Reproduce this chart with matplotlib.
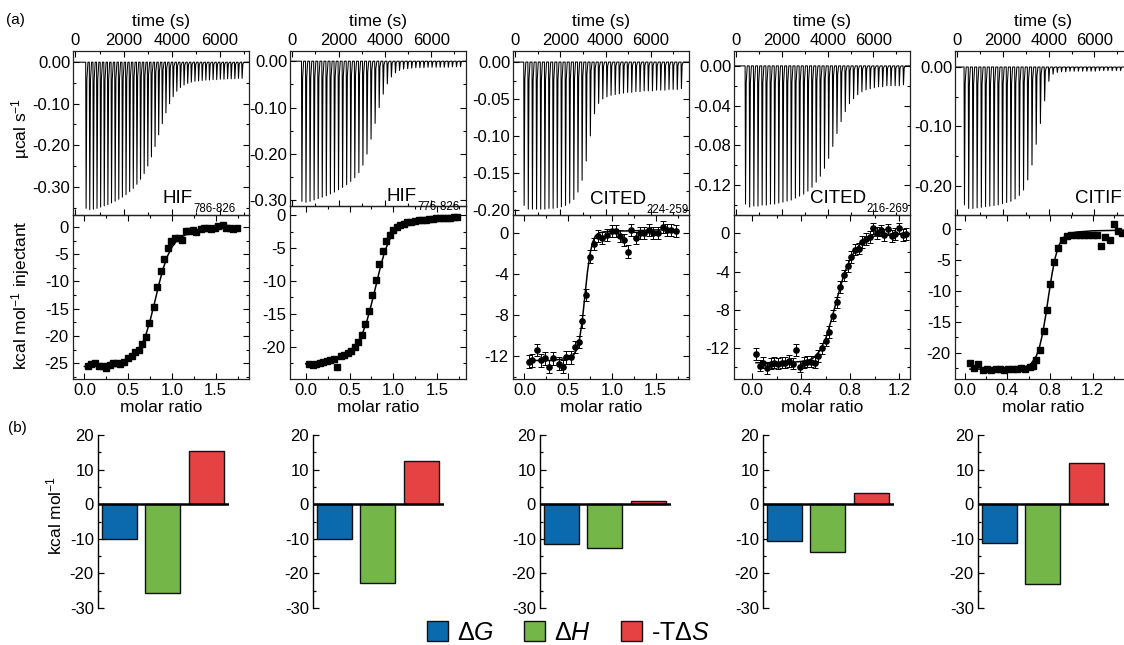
import matplotlib
matplotlib.use('Agg')
import matplotlib.pyplot as plt
from matplotlib.patches import Patch
from matplotlib.ticker import MultipleLocator, FormatStrFormatter

plt.rcParams['font.family'] = ['Liberation Sans', 'DejaVu Sans']
plt.rcParams['mathtext.fontset'] = 'custom'
plt.rcParams['mathtext.rm'] = 'Liberation Sans'
plt.rcParams['mathtext.it'] = 'Liberation Sans:italic'
plt.rcParams['axes.unicode_minus'] = False

W, H = 1124, 645

# ---- data ----
names = ['HIF', 'HIF', 'CITED', 'CITED', 'CITIF']
subs = ['786-826', '776-826', '224-259', '216-269', '']

# raw thermogram peak heights (ucal/s), one per injection
peaks_1 = [-0.352, -0.355, -0.354, -0.352, -0.349, -0.346, -0.343, -0.339, -0.335, -0.330,
           -0.325, -0.319, -0.312, -0.304, -0.294, -0.282, -0.268, -0.250, -0.228, -0.203,
           -0.175, -0.148, -0.122, -0.100, -0.083, -0.070, -0.061, -0.055, -0.051, -0.048,
           -0.046, -0.045, -0.044, -0.043, -0.043, -0.042, -0.042, -0.041, -0.041, -0.040,
           -0.040, -0.040, -0.039, -0.039]
peaks_2 = [-0.302, -0.304, -0.302, -0.299, -0.296, -0.293, -0.290, -0.286, -0.282, -0.277,
           -0.272, -0.266, -0.259, -0.251, -0.240, -0.224, -0.200, -0.168, -0.134, -0.100,
           -0.071, -0.049, -0.034, -0.025, -0.020, -0.017, -0.016, -0.015, -0.014, -0.014,
           -0.014, -0.013, -0.013, -0.013, -0.013, -0.013, -0.013, -0.012, -0.012, -0.012]
peaks_3 = [-0.194, -0.199, -0.199, -0.199, -0.199, -0.199, -0.198, -0.198, -0.197, -0.196,
           -0.194, -0.191, -0.186, -0.176, -0.160, -0.134, -0.100, -0.070, -0.056, -0.050,
           -0.047, -0.045, -0.044, -0.043, -0.042, -0.041, -0.041, -0.040, -0.040, -0.039,
           -0.039, -0.039, -0.038, -0.038, -0.038, -0.037, -0.037, -0.037, -0.036]
peaks_4 = [-0.139, -0.142, -0.141, -0.141, -0.140, -0.140, -0.139, -0.139, -0.138, -0.137,
           -0.136, -0.135, -0.133, -0.131, -0.129, -0.126, -0.122, -0.117, -0.111, -0.103,
           -0.093, -0.081, -0.068, -0.056, -0.046, -0.038, -0.033, -0.029, -0.026, -0.024,
           -0.023, -0.022, -0.021, -0.021, -0.020, -0.020, -0.020, -0.020, -0.019]
peaks_5 = [-0.232, -0.238, -0.238, -0.237, -0.236, -0.235, -0.234, -0.233, -0.232, -0.230,
           -0.228, -0.226, -0.222, -0.216, -0.207, -0.190, -0.165, -0.130, -0.095, -0.057,
           -0.024, -0.012, -0.009, -0.008, -0.008, -0.007, -0.007, -0.007, -0.007, -0.007,
           -0.007, -0.007, -0.006, -0.006, -0.006, -0.006, -0.006, -0.006, -0.006, -0.006]

# integrated heats (kcal/mol injectant) vs molar ratio
ratio_1 = [0.04, 0.08, 0.12, 0.17, 0.21, 0.25, 0.29, 0.33, 0.37, 0.41, 0.45, 0.50, 0.54, 0.58,
           0.62, 0.66, 0.70, 0.74, 0.79, 0.83, 0.87, 0.91, 0.95, 0.99, 1.04, 1.08, 1.12, 1.16,
           1.20, 1.24, 1.28, 1.33, 1.37, 1.41, 1.45, 1.49, 1.53, 1.58, 1.62, 1.66, 1.70, 1.74]
heat_1 = [-25.6, -25.2, -25.0, -25.5, -25.6, -25.9, -25.4, -25.0, -24.9, -25.1, -24.8, -24.0,
          -23.6, -23.0, -22.6, -21.5, -20.1, -17.6, -14.6, -11.0, -8.0, -5.8, -3.8, -2.6,
          -2.0, -2.1, -2.3, -0.8, -0.8, -0.6, -0.9, -0.4, -0.2, -0.2, -0.4, -0.1, 0.1, 0.3,
          -0.2, -0.1, -0.3, -0.2]
ratio_2 = [0.04, 0.08, 0.12, 0.16, 0.20, 0.24, 0.28, 0.32, 0.36, 0.40, 0.44, 0.48, 0.52, 0.56,
           0.60, 0.64, 0.68, 0.72, 0.76, 0.80, 0.84, 0.88, 0.92, 0.96, 1.00, 1.04, 1.08, 1.12,
           1.16, 1.20, 1.25, 1.29, 1.33, 1.37, 1.41, 1.45, 1.49, 1.53, 1.57, 1.61, 1.65, 1.69, 1.73]
heat_2 = [-22.6, -22.7, -22.6, -22.5, -22.3, -22.2, -22.0, -21.8, -23.0, -21.4, -21.2, -21.0,
          -20.6, -20.0, -19.2, -18.2, -16.6, -14.6, -12.2, -9.8, -7.4, -5.4, -3.9, -3.0, -2.2,
          -1.8, -1.5, -1.3, -1.1, -1.0, -0.9, -0.8, -0.7, -0.7, -0.6, -0.6, -0.5, -0.5, -0.4,
          -0.4, -0.4, -0.3, -0.3]
ratio_3 = [0.05, 0.09, 0.14, 0.19, 0.24, 0.28, 0.33, 0.39, 0.44, 0.48, 0.53, 0.58, 0.62, 0.66,
           0.70, 0.75, 0.80, 0.84, 0.89, 0.94, 1.00, 1.05, 1.09, 1.14, 1.18, 1.22, 1.27, 1.32,
           1.37, 1.42, 1.47, 1.53, 1.58, 1.63, 1.68, 1.73]
heat_3 = [-12.5, -12.4, -11.4, -12.4, -12.2, -13.0, -12.2, -12.7, -13.0, -12.1, -12.1, -11.1,
          -10.6, -8.6, -6.0, -2.3, -1.1, -0.3, -0.5, -0.2, 0.2, 0.2, -0.3, -0.7, -1.8, 0.3,
          -0.5, 0.0, 0.0, 0.3, 0.0, 0.0, 0.6, 0.3, 0.3, 0.2]
ratio_4 = [0.03, 0.06, 0.09, 0.12, 0.15, 0.18, 0.21, 0.24, 0.27, 0.30, 0.33, 0.36, 0.39, 0.42,
           0.45, 0.48, 0.51, 0.54, 0.57, 0.60, 0.63, 0.66, 0.69, 0.72, 0.75, 0.78, 0.81, 0.84,
           0.87, 0.90, 0.93, 0.96, 0.99, 1.02, 1.05, 1.08, 1.11, 1.14, 1.17, 1.20, 1.23, 1.26]
heat_4 = [-12.6, -13.8, -13.5, -14.1, -13.6, -13.5, -13.6, -13.5, -13.5, -13.3, -13.6, -12.2,
          -13.9, -13.5, -13.4, -13.4, -13.5, -12.8, -12.0, -11.2, -10.3, -8.6, -7.2, -5.6,
          -4.4, -3.4, -2.5, -1.7, -1.6, -0.9, -0.6, -0.4, 0.5, 0.0, 0.3, -0.2, 0.4, -0.3,
          -0.1, 0.5, -0.2, -0.1]
ratio_5 = [0.05, 0.09, 0.13, 0.17, 0.21, 0.25, 0.29, 0.33, 0.37, 0.41, 0.45, 0.49, 0.53, 0.57,
           0.61, 0.64, 0.67, 0.71, 0.74, 0.77, 0.80, 0.84, 0.88, 0.92, 0.96, 1.00, 1.04, 1.08,
           1.12, 1.16, 1.20, 1.24, 1.28, 1.32, 1.36, 1.40, 1.44, 1.48]
heat_5 = [-21.6, -22.5, -21.8, -22.7, -22.6, -22.7, -22.6, -22.6, -22.7, -22.6, -22.6, -22.6,
          -22.5, -22.6, -22.3, -22.1, -21.2, -19.5, -16.5, -13.0, -8.8, -5.3, -3.1, -1.8,
          -1.2, -1.0, -0.9, -0.9, -0.9, -0.9, -0.9, -0.9, -2.7, -1.3, -1.8, 0.8, -0.4, -0.6]
err = [0.3, 0.3, 0.6, 0.6, 0.3]

# fitted binding curves
fit_x_1 = [0.0, 0.2, 0.4, 0.5, 0.6, 0.65, 0.7, 0.75, 0.8, 0.85, 0.9, 0.95, 1.0, 1.05, 1.1, 1.2, 1.3, 1.5, 1.76]
fit_y_1 = [-25.6, -25.4, -24.9, -24.3, -23.0, -21.8, -19.9, -17.2, -14.0, -10.6, -7.6, -5.3, -3.7, -2.6, -1.9, -1.1, -0.7, -0.3, -0.1]
fit_x_2 = [0.0, 0.2, 0.4, 0.5, 0.6, 0.65, 0.7, 0.75, 0.8, 0.85, 0.9, 0.95, 1.0, 1.1, 1.2, 1.4, 1.6, 1.75]
fit_y_2 = [-22.6, -22.3, -21.5, -20.7, -19.2, -17.9, -16.0, -13.5, -10.8, -8.0, -5.6, -3.9, -2.8, -1.6, -1.1, -0.7, -0.5, -0.4]
fit_x_3 = [0.04, 0.3, 0.5, 0.56, 0.6, 0.63, 0.66, 0.69, 0.72, 0.75, 0.78, 0.81, 0.85, 0.9, 1.0, 1.2, 1.5, 1.75]
fit_y_3 = [-12.4, -12.4, -12.2, -11.9, -11.3, -10.3, -8.6, -6.2, -3.8, -2.0, -0.9, -0.3, 0.0, 0.1, 0.2, 0.2, 0.3, 0.3]
fit_x_4 = [0.03, 0.3, 0.45, 0.5, 0.55, 0.6, 0.65, 0.7, 0.75, 0.8, 0.85, 0.9, 0.95, 1.0, 1.1, 1.27]
fit_y_4 = [-13.5, -13.5, -13.3, -13.0, -12.3, -11.0, -8.9, -6.5, -4.3, -2.7, -1.6, -0.9, -0.5, -0.3, -0.1, 0.0]
fit_x_5 = [0.05, 0.4, 0.55, 0.62, 0.67, 0.7, 0.73, 0.76, 0.79, 0.82, 0.85, 0.88, 0.92, 0.97, 1.05, 1.2, 1.5]
fit_y_5 = [-22.6, -22.6, -22.4, -21.8, -20.6, -19.2, -17.0, -14.0, -10.5, -7.2, -4.6, -2.8, -1.5, -0.8, -0.5, -0.3, -0.2]

# thermodynamic parameters (kcal/mol)
dG = [-10.2, -10.2, -11.5, -10.6, -11.1]
dH = [-25.8, -22.9, -12.7, -13.7, -23.0]
minus_TdS = [15.4, 12.6, 1.0, 3.2, 11.8]
bar_labels = [r'$\Delta\mathit{G}$', r'$\Delta\mathit{H}$', r'-T$\Delta\mathit{S}$']
bar_colors = ['#0b6aae', '#74b647', '#e64244']

# ---- layout (pixels) ----
lefts = [73, 290, 513, 734, 955]
splits = [215, 206, 215, 215, 215]
top_px, bot_px, pw = 51, 379, 176
bar_lefts = [98, 313, 540, 763, 978]

raw_ylim = [(-0.368, 0.027), (-0.312, 0.022), (-0.207, 0.015), (-0.150, 0.015), (-0.249, 0.027)]
raw_major = [0.1, 0.1, 0.05, 0.04, 0.1]
time_lim = [(-100, 7200), (-100, 7500), (-100, 7700), (-100, 7600), (-100, 7600)]
inj_span = [(430, 6900), (400, 7250), (380, 7350), (390, 7300), (300, 7500)]
iso_xlim = [(-0.13, 1.88), (-0.18, 1.83), (-0.13, 1.88), (-0.15, 1.29), (-0.09, 1.56)]
iso_ylim = [(-27.9, 2.2), (-24.9, 1.4), (-14.2, 1.75), (-15.2, 1.9), (-24.2, 2.25)]
iso_xmajor = [0.5, 0.5, 0.5, 0.4, 0.4]
iso_ymajor = [5, 5, 4, 4, 5]
markers = ['s', 's', 'o', 'o', 's']
label_pos = [(0.51, 0.075), (0.55, 0.03), (0.435, 0.07), (0.43, 0.075), (0.68, 0.075)]

peaks = [peaks_1, peaks_2, peaks_3, peaks_4, peaks_5]
ratios = [ratio_1, ratio_2, ratio_3, ratio_4, ratio_5]
heats = [heat_1, heat_2, heat_3, heat_4, heat_5]
fits = [(fit_x_1, fit_y_1), (fit_x_2, fit_y_2), (fit_x_3, fit_y_3), (fit_x_4, fit_y_4), (fit_x_5, fit_y_5)]


def rect(left, top, width, bottom):
    return [left / W, 1 - bottom / H, width / W, (bottom - top) / H]


def style(ax):
    for s in ax.spines.values():
        s.set_linewidth(0.9)
        s.set_color('#222222')
    ax.tick_params(which='both', direction='in', top=True, right=True,
                   labelsize=12, pad=3, width=0.8)
    ax.tick_params(which='major', length=4)
    ax.tick_params(which='minor', length=2.5)


def spike_trace(pk, t0, t1):
    step = (t1 - t0) / (len(pk) - 1)
    ts, ys = [-200], [0]
    for i, d in enumerate(pk):
        t = t0 + i * step
        ts += [t - 4, t + 14, t + 45, t + 90]
        ys += [0, d, 0.12 * d, 0]
    ts.append(8000)
    ys.append(0)
    return ts, ys


fig = plt.figure(figsize=(W / 100, H / 100), dpi=100)

for i in range(5):
    # integrated isotherm (created first so the upper panel's label sits on top)
    bx = fig.add_axes(rect(lefts[i], splits[i], pw, bot_px))
    style(bx)
    bx.errorbar(ratios[i], heats[i], yerr=err[i], fmt=markers[i], color='black',
                ms=3.8, elinewidth=0.7, capsize=2 if err[i] > 0.4 else 0,
                capthick=0.7, zorder=3)
    bx.plot(fits[i][0], fits[i][1], color='black', lw=1.1, zorder=2)
    bx.set_xlim(*iso_xlim[i])
    bx.set_ylim(*iso_ylim[i])
    bx.xaxis.set_major_locator(MultipleLocator(iso_xmajor[i]))
    bx.xaxis.set_minor_locator(MultipleLocator(iso_xmajor[i] / 2))
    bx.yaxis.set_major_locator(MultipleLocator(iso_ymajor[i]))
    bx.yaxis.set_minor_locator(MultipleLocator(iso_ymajor[i] / 2))
    bx.xaxis.set_major_formatter(FormatStrFormatter('%.1f'))
    bx.yaxis.set_major_formatter(FormatStrFormatter('%g'))
    bx.set_xlabel('molar ratio', fontsize=12.5, labelpad=1)

    # raw heat trace
    ax = fig.add_axes(rect(lefts[i], top_px, pw, splits[i]))
    style(ax)
    ax.patch.set_alpha(0)
    ts, ys = spike_trace(peaks[i], *inj_span[i])
    ax.plot(ts, ys, color='black', lw=0.75)
    ax.set_xlim(*time_lim[i])
    ax.set_ylim(*raw_ylim[i])
    ax.xaxis.set_major_locator(MultipleLocator(2000))
    ax.xaxis.set_minor_locator(MultipleLocator(1000))
    ax.yaxis.set_major_locator(MultipleLocator(raw_major[i]))
    ax.yaxis.set_minor_locator(MultipleLocator(raw_major[i] / 2))
    ax.yaxis.set_major_formatter(FormatStrFormatter('%.2f'))
    ax.tick_params(labeltop=True, labelbottom=False, pad=2)
    ax.xaxis.set_label_position('top')
    ax.set_xlabel('time (s)', fontsize=12.5, labelpad=5)
    tx, ty = label_pos[i]
    t = ax.text(tx, ty, names[i], transform=ax.transAxes, fontsize=13.5,
                ha='left', va='baseline')
    if subs[i]:
        ax.annotate(subs[i], xy=(1.0, 0.0), xycoords=t, xytext=(0.5, -1.5),
                    textcoords='offset points', fontsize=8.3, ha='left', va='center')

    # thermodynamic signature
    cx = fig.add_axes(rect(bar_lefts[i], 435, 131, 608))
    vals = [dG[i], dH[i], minus_TdS[i]]
    cx.bar([0, 1, 2], vals, width=0.8, color=bar_colors, edgecolor='#111111',
           linewidth=1.0, zorder=2)
    cx.axhline(0, color='black', lw=1.8, zorder=3)
    cx.set_xlim(-0.49, 2.52)
    cx.set_ylim(-30, 20)
    for s in ['top', 'right', 'bottom']:
        cx.spines[s].set_visible(False)
    cx.spines['left'].set_linewidth(1.0)
    cx.set_xticks([])
    cx.yaxis.set_major_locator(MultipleLocator(10))
    cx.yaxis.set_minor_locator(MultipleLocator(5))
    cx.tick_params(axis='y', which='both', direction='in', labelsize=12, pad=3, width=0.9)
    cx.tick_params(axis='y', which='major', length=4)
    cx.tick_params(axis='y', which='minor', length=2.5)
    cx.patch.set_alpha(0)

fig.text(21 / W, 1 - 128 / H, r'µcal s$^{-1}$', rotation=90, fontsize=12.5,
         ha='center', va='center')
fig.text(21 / W, 1 - 295 / H, r'kcal mol$^{-1}$ injectant', rotation=90, fontsize=12.5,
         ha='center', va='center')
fig.text(54 / W, 1 - 515 / H, r'kcal mol$^{-1}$', rotation=90, fontsize=12.5,
         ha='center', va='center')
fig.text(6 / W, 1 - 20 / H, '(a)', fontsize=11, ha='left', va='center')
fig.text(8 / W, 1 - 428 / H, '(b)', fontsize=11, ha='left', va='center')

handles = [Patch(facecolor=c, edgecolor='#111111', linewidth=1.0) for c in bar_colors]
fig.legend(handles, bar_labels, loc='center', bbox_to_anchor=(568 / W, 1 - 633 / H),
           ncol=3, frameon=False, fontsize=18, handlelength=0.85, handleheight=0.85,
           handletextpad=0.35, columnspacing=1.2, borderpad=0)

fig.savefig('out.png', dpi=100)
